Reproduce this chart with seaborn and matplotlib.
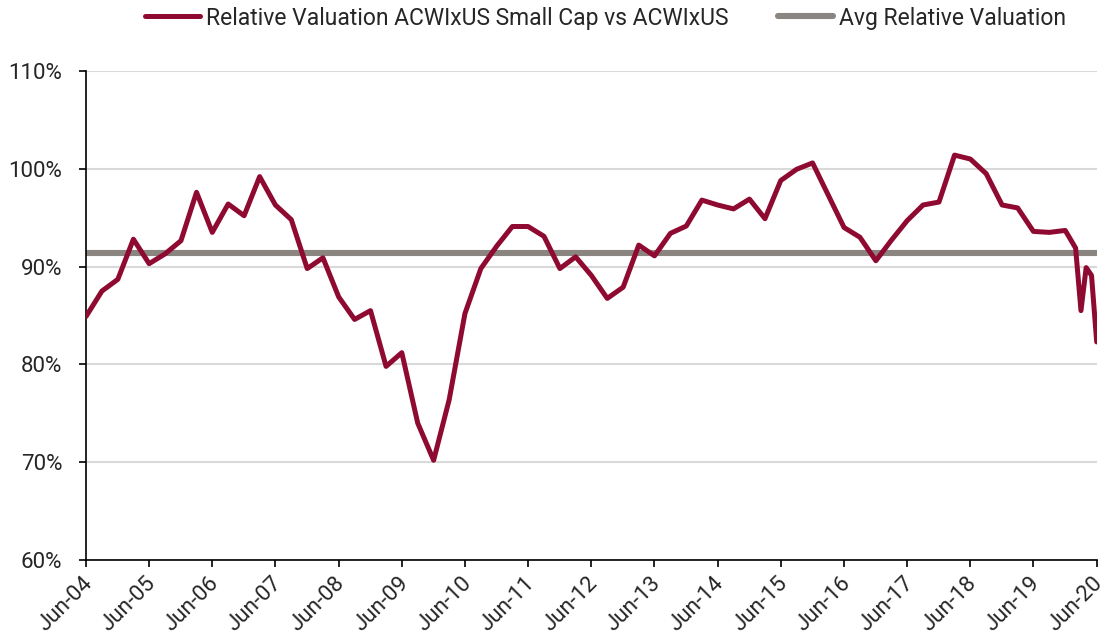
import numpy as np
import pandas as pd
import matplotlib
matplotlib.use("Agg")
import matplotlib.pyplot as plt
import matplotlib.dates as mdates
import matplotlib.transforms as mtransforms
from matplotlib.ticker import FuncFormatter
import seaborn as sns

# quarterly readings Jun-04 .. Dec-19, then monthly into 2020
dates = ["2004-06-30", "2004-09-30", "2004-12-31", "2005-03-31", "2005-06-30", "2005-09-30",
         "2005-12-31", "2006-03-31", "2006-06-30", "2006-09-30", "2006-12-31", "2007-03-31",
         "2007-06-30", "2007-09-30", "2007-12-31", "2008-03-31", "2008-06-30", "2008-09-30",
         "2008-12-31", "2009-03-31", "2009-06-30", "2009-09-30", "2009-12-31", "2010-03-31",
         "2010-06-30", "2010-09-30", "2010-12-31", "2011-03-31", "2011-06-30", "2011-09-30",
         "2011-12-31", "2012-03-31", "2012-06-30", "2012-09-30", "2012-12-31", "2013-03-31",
         "2013-06-30", "2013-09-30", "2013-12-31", "2014-03-31", "2014-06-30", "2014-09-30",
         "2014-12-31", "2015-03-31", "2015-06-30", "2015-09-30", "2015-12-31", "2016-03-31",
         "2016-06-30", "2016-09-30", "2016-12-31", "2017-03-31", "2017-06-30", "2017-09-30",
         "2017-12-31", "2018-03-31", "2018-06-30", "2018-09-30", "2018-12-31", "2019-03-31",
         "2019-06-30", "2019-09-30", "2019-12-31", "2020-02-29", "2020-03-31", "2020-04-30",
         "2020-05-31", "2020-06-30"]
rel_val = [84.9, 87.5, 88.7, 92.8, 90.3, 91.3,
           92.65, 97.6, 93.5, 96.4, 95.2, 99.2,
           96.3, 94.8, 89.8, 90.9, 86.9, 84.6,
           85.5, 79.8, 81.2, 74.0, 70.2, 76.4,
           85.2, 89.8, 92.1, 94.1, 94.1, 93.1,
           89.8, 91.0, 89.1, 86.75, 87.9, 92.2,
           91.1, 93.4, 94.15, 96.8, 96.3, 95.9,
           96.9, 94.9, 98.8, 99.95, 100.6, 97.3,
           94.0, 93.0, 90.6, 92.7, 94.7, 96.3,
           96.6, 101.4, 101.0, 99.5, 96.3, 96.0,
           93.6, 93.5, 93.7, 91.9, 85.5, 89.9,
           89.1, 82.3]
avg_val = 91.4

df = pd.DataFrame({"Date": pd.to_datetime(dates), "Rel": rel_val})

sns.set_style("white")
plt.rcParams['font.family'] = ['Roboto', 'DejaVu Sans']

fig = plt.figure(figsize=(11.07, 6.43), dpi=100)
ax = fig.add_axes([0.0777, 0.129, 0.913, 0.7606])

sns.lineplot(x="Date", y="Rel", data=df, ax=ax, color="#8f0a30", linewidth=3.6,
             label="Relative Valuation ACWIxUS Small Cap vs ACWIxUS", zorder=3)
ax.plot([pd.Timestamp("2004-06-30"), pd.Timestamp("2020-06-30")], [avg_val, avg_val],
        color="#8a8580", linewidth=4.4, solid_capstyle="round",
        label="Avg Relative Valuation", zorder=2)

ax.set_xlim(pd.Timestamp("2004-06-30"), pd.Timestamp("2020-06-30"))
ax.set_ylim(60, 110)
ax.set_yticks(np.arange(60, 111, 10))
ax.yaxis.set_major_formatter(FuncFormatter(lambda v, p: f"{v:.0f}%"))
ax.xaxis.set_major_locator(mdates.MonthLocator(bymonth=6, bymonthday=30))
ax.xaxis.set_major_formatter(mdates.DateFormatter("%b-%y"))
ax.set_xlabel("")
ax.set_ylabel("")

ax.grid(axis="y", color="#d9d9d9", linewidth=1.5)
ax.set_axisbelow(True)
for s in ["top", "right"]:
    ax.spines[s].set_visible(False)
for s in ["left", "bottom"]:
    ax.spines[s].set_color("black")
    ax.spines[s].set_linewidth(1.2)
ax.tick_params(axis="both", which="major", length=5, width=1.2, color="black",
               labelsize=16, direction="out", bottom=True, left=True)
ax.tick_params(axis="y", pad=12)
ax.tick_params(axis="x", pad=4)
shift = mtransforms.ScaledTranslation(-3 / 72, 0, fig.dpi_scale_trans)
for lab in ax.get_xticklabels():
    lab.set_rotation(45)
    lab.set_ha("right")
    lab.set_rotation_mode("anchor")
    lab.set_transform(lab.get_transform() + shift)

ax.get_legend().remove()
h, l = ax.get_legend_handles_labels()
fig.legend(h, l, loc="center", bbox_to_anchor=(0.547, 0.972), ncol=2, frameon=False,
           fontsize=16.5, handlelength=2.4, columnspacing=2.2, handletextpad=0.25)

plt.savefig("out.png", dpi=100)
